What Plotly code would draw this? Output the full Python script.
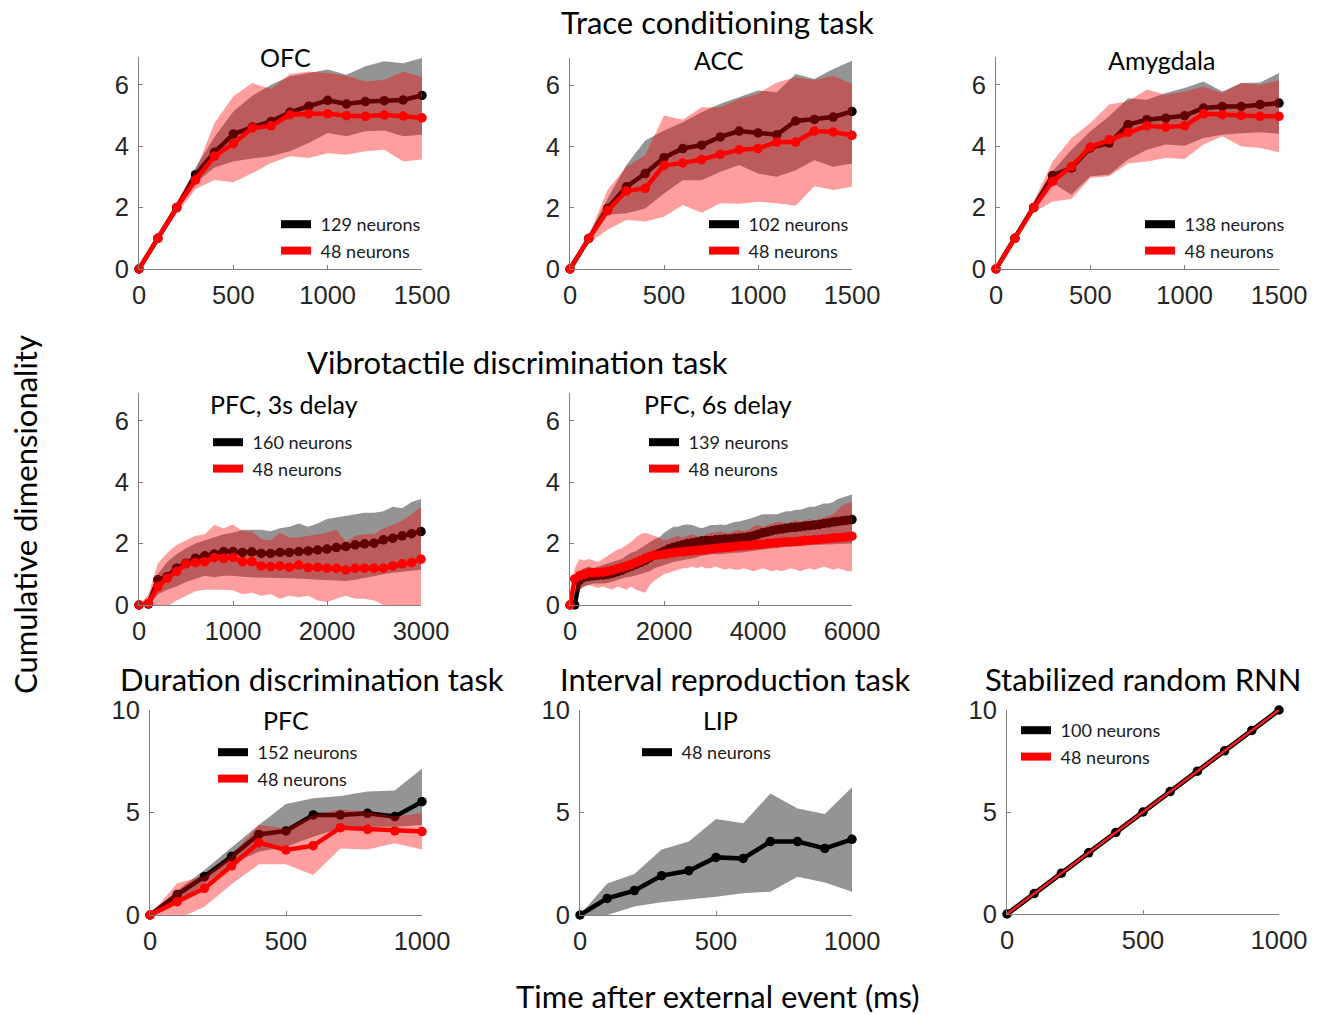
import plotly.graph_objects as go

W, H = 1320, 1015

# ---------------- data ----------------
t1500 = [0, 100, 200, 300, 400, 500, 600, 700, 800, 900, 1000, 1100, 1200, 1300, 1400, 1500]
t1000 = [0, 100, 200, 300, 400, 500, 600, 700, 800, 900, 1000]
t3000 = list(range(0, 3001, 100))
t6000 = list(range(0, 6001, 100))

# OFC
ofc_all_mean = [0, 1.0, 2.0, 3.07, 3.8, 4.39, 4.62, 4.8, 5.1, 5.3, 5.49, 5.37, 5.45, 5.48, 5.5, 5.65]
ofc_all_up = [0, 1.05, 2.1, 3.3, 4.3, 5.13, 5.64, 6.0, 6.27, 6.38, 6.49, 6.32, 6.6, 6.76, 6.7, 6.87]
ofc_all_lo = [0, 0.95, 1.9, 2.8, 3.3, 3.5, 3.6, 3.67, 3.83, 4.1, 4.43, 4.32, 4.48, 4.51, 4.32, 4.37]
ofc_sub_mean = [0, 1.0, 2.0, 2.9, 3.67, 4.08, 4.59, 4.66, 5.02, 5.05, 5.05, 4.99, 4.97, 5.01, 4.98, 4.92]
ofc_sub_up = [0, 1.1, 2.2, 3.2, 4.75, 5.62, 6.05, 5.86, 6.35, 6.43, 6.38, 6.29, 6.1, 6.16, 6.43, 6.25]
ofc_sub_lo = [0, 0.9, 1.8, 2.6, 2.9, 2.82, 3.12, 3.45, 3.67, 3.61, 3.77, 3.72, 3.83, 3.88, 3.5, 3.56]

# ACC
acc_all_mean = [0, 1.0, 1.98, 2.69, 3.12, 3.64, 3.94, 4.05, 4.32, 4.51, 4.45, 4.39, 4.84, 4.89, 4.97, 5.15]
acc_all_up = [0, 1.1, 2.3, 3.4, 4.2, 4.53, 4.8, 5.13, 5.4, 5.62, 5.84, 5.78, 6.38, 6.21, 6.54, 6.81]
acc_all_lo = [0, 0.9, 1.77, 1.82, 1.98, 2.47, 2.9, 2.9, 3.18, 3.4, 3.12, 3.02, 3.23, 3.56, 3.34, 3.45]
acc_sub_mean = [0, 1.0, 1.91, 2.55, 2.64, 3.39, 3.47, 3.58, 3.75, 3.9, 3.94, 4.15, 4.15, 4.51, 4.48, 4.37]
acc_sub_up = [0, 1.1, 2.58, 3.34, 3.72, 5.02, 4.88, 5.29, 5.29, 5.56, 5.73, 6.1, 6.27, 6.18, 6.32, 6.05]
acc_sub_lo = [0, 0.85, 1.28, 1.6, 1.55, 1.71, 2.09, 1.84, 2.15, 2.13, 2.2, 2.15, 2.07, 2.71, 2.58, 2.69]

# Amygdala
amy_all_mean = [0, 1.0, 2.0, 3.04, 3.29, 3.94, 4.1, 4.7, 4.86, 4.91, 4.99, 5.24, 5.29, 5.29, 5.35, 5.4]
amy_all_up = [0, 1.05, 2.1, 3.18, 3.88, 4.48, 4.97, 5.56, 5.51, 5.73, 5.89, 6.1, 5.78, 6.05, 6.07, 6.38]
amy_all_lo = [0, 0.95, 1.95, 2.8, 2.42, 3.02, 3.07, 3.56, 3.88, 4.05, 4.01, 4.26, 4.37, 4.42, 4.45, 4.4]
amy_sub_mean = [0, 1.0, 2.0, 2.85, 3.34, 3.97, 4.21, 4.45, 4.66, 4.62, 4.66, 5.05, 5.02, 5.0, 4.97, 4.97]
amy_sub_up = [0, 1.1, 2.2, 3.5, 4.26, 4.75, 5.35, 5.46, 5.84, 5.67, 5.78, 5.94, 5.73, 6.05, 6.0, 6.14]
amy_sub_lo = [0, 0.9, 1.85, 2.2, 2.28, 2.96, 3.02, 3.43, 3.5, 3.61, 3.58, 4.05, 4.32, 3.99, 3.94, 3.8]

# PFC, 3s delay
p3_all_mean = [0, 0.03, 0.82, 0.92, 1.2, 1.36, 1.52, 1.6, 1.66, 1.74, 1.74, 1.71, 1.73, 1.68, 1.68, 1.71,
               1.71, 1.74, 1.76, 1.79, 1.82, 1.87, 1.9, 1.96, 1.99, 2.01, 2.12, 2.17, 2.25, 2.32, 2.39]
p3_all_up = [0, 0.1, 1.0, 1.4, 1.65, 1.85, 2.0, 2.1, 2.2, 2.3, 2.35, 2.45, 2.45, 2.45, 2.4, 2.5,
             2.55, 2.65, 2.55, 2.65, 2.8, 2.85, 2.9, 2.95, 3.0, 3.0, 3.05, 3.2, 3.15, 3.35, 3.45]
p3_all_lo = [0, -0.05, 0.35, 0.5, 0.6, 0.75, 0.85, 0.95, 0.9, 0.95, 0.95, 0.92, 0.9, 0.9, 0.88, 0.88,
             0.87, 0.85, 0.85, 0.82, 0.8, 0.8, 0.78, 0.82, 0.88, 0.95, 1.0, 1.05, 1.1, 1.12, 1.15]
p3_sub_mean = [0, 0.05, 0.6, 0.87, 1.09, 1.34, 1.38, 1.41, 1.54, 1.52, 1.55, 1.41, 1.41, 1.27, 1.25, 1.27,
               1.23, 1.3, 1.22, 1.23, 1.2, 1.2, 1.14, 1.2, 1.2, 1.2, 1.2, 1.27, 1.34, 1.38, 1.49]
p3_sub_up = [0, 0.35, 1.35, 1.7, 1.95, 2.1, 2.25, 2.3, 2.6, 2.5, 2.62, 2.4, 2.4, 2.15, 2.1, 2.35,
             2.2, 2.2, 2.25, 2.3, 2.35, 2.45, 2.05, 2.25, 2.3, 2.3, 2.5, 2.6, 2.75, 2.95, 3.2]
p3_sub_lo = [0, -0.2, -0.05, -0.05, 0.15, 0.3, 0.45, 0.5, 0.5, 0.5, 0.48, 0.35, 0.4, 0.3, 0.35, 0.2,
             0.3, 0.25, 0.3, 0.15, 0.1, 0.2, 0.3, 0.2, 0.2, 0.15, 0.0, -0.05, -0.1, -0.1, -0.05]

# PFC, 6s delay
p6_all_mean = [0, 0.0, 0.8, 0.9, 0.93, 0.95, 0.97, 0.98, 1.0, 1.03, 1.08, 1.13, 1.2, 1.26, 1.32, 1.38,
               1.45, 1.55, 1.62, 1.68, 1.75, 1.82, 1.88, 1.92, 1.96, 2.0, 2.03, 2.05, 2.08, 2.1, 2.1,
               2.12, 2.13, 2.15, 2.15, 2.17, 2.18, 2.2, 2.22, 2.25, 2.3, 2.35, 2.38, 2.42, 2.45, 2.47,
               2.5, 2.52, 2.53, 2.55, 2.57, 2.58, 2.6, 2.62, 2.65, 2.67, 2.7, 2.72, 2.74, 2.76, 2.78]
p6_all_up = [0, 0.3, 1.1, 1.2, 1.25, 1.2, 1.25, 1.3, 1.35, 1.4, 1.45, 1.5, 1.6, 1.7, 1.75, 1.85,
             1.95, 2.05, 2.15, 2.2, 2.35, 2.45, 2.55, 2.55, 2.6, 2.62, 2.6, 2.55, 2.5, 2.55, 2.6,
             2.6, 2.62, 2.6, 2.65, 2.7, 2.72, 2.75, 2.8, 2.85, 2.9, 2.95, 2.95, 2.95, 2.95, 3.0,
             3.05, 3.05, 3.1, 3.1, 3.15, 3.2, 3.2, 3.25, 3.3, 3.3, 3.35, 3.45, 3.5, 3.55, 3.6]
p6_all_lo = [0, -0.1, 0.5, 0.6, 0.65, 0.7, 0.7, 0.7, 0.72, 0.75, 0.8, 0.85, 0.9, 0.92, 0.95, 1.0,
             1.05, 1.1, 1.2, 1.25, 1.3, 1.35, 1.4, 1.42, 1.45, 1.5, 1.52, 1.55, 1.6, 1.62, 1.65,
             1.65, 1.65, 1.68, 1.68, 1.7, 1.7, 1.72, 1.75, 1.75, 1.78, 1.8, 1.82, 1.85, 1.85, 1.88,
             1.9, 1.9, 1.92, 1.92, 1.93, 1.95, 1.95, 1.95, 1.97, 1.97, 1.98, 1.98, 2.0, 2.0, 2.0]
p6_sub_mean = [0, 0.85, 0.95, 1.0, 1.05, 1.05, 1.06, 1.07, 1.1, 1.13, 1.18, 1.22, 1.27, 1.32, 1.38, 1.45,
               1.52, 1.58, 1.62, 1.63, 1.65, 1.68, 1.7, 1.72, 1.73, 1.75, 1.76, 1.78, 1.79, 1.8, 1.82,
               1.84, 1.86, 1.87, 1.88, 1.9, 1.92, 1.93, 1.94, 1.95, 1.97, 1.98, 2.0, 2.01, 2.03, 2.04,
               2.05, 2.06, 2.07, 2.08, 2.1, 2.11, 2.12, 2.13, 2.15, 2.16, 2.18, 2.19, 2.2, 2.22, 2.24]
p6_sub_up = [0, 1.2, 1.5, 1.45, 1.5, 1.45, 1.4, 1.5, 1.6, 1.7, 1.8, 1.85, 1.95, 2.05, 2.2, 2.3,
             2.35, 2.3, 2.25, 2.2, 2.1, 2.15, 2.2, 2.25, 2.2, 2.25, 2.3, 2.25, 2.2, 2.3, 2.35,
             2.35, 2.4, 2.35, 2.35, 2.4, 2.45, 2.4, 2.45, 2.55, 2.6, 2.55, 2.6, 2.65, 2.7, 2.7,
             2.65, 2.7, 2.75, 2.7, 2.75, 2.8, 2.75, 2.8, 2.85, 2.9, 2.95, 3.1, 3.25, 3.3, 3.35]
p6_sub_lo = [0, 0.4, 0.5, 0.6, 0.65, 0.6, 0.55, 0.6, 0.55, 0.5, 0.6, 0.55, 0.5, 0.6, 0.5, 0.45,
             0.4, 0.65, 0.8, 0.9, 1.0, 1.05, 1.1, 1.15, 1.2, 1.2, 1.25, 1.2, 1.25, 1.2, 1.2,
             1.25, 1.2, 1.15, 1.2, 1.15, 1.15, 1.2, 1.15, 1.1, 1.15, 1.2, 1.15, 1.1, 1.15, 1.1,
             1.15, 1.2, 1.15, 1.1, 1.15, 1.2, 1.15, 1.2, 1.25, 1.2, 1.15, 1.2, 1.15, 1.1, 1.1]

# Duration discrimination, PFC
dur_all_mean = [0, 1.0, 1.87, 2.85, 3.93, 4.1, 4.88, 4.88, 4.96, 4.8, 5.53]
dur_all_up = [0, 1.2, 2.2, 3.3, 4.39, 5.41, 5.69, 5.8, 6.02, 6.07, 7.15]
dur_all_lo = [0, 0.6, 1.5, 2.5, 3.09, 3.33, 3.82, 4.23, 4.3, 4.3, 4.39]
dur_sub_mean = [0, 0.65, 1.3, 2.4, 3.53, 3.17, 3.38, 4.26, 4.18, 4.1, 4.07]
dur_sub_up = [0, 1.55, 1.9, 2.9, 4.39, 4.23, 4.88, 5.15, 5.04, 4.8, 4.96]
dur_sub_lo = [0, -0.2, 0.4, 1.5, 2.47, 2.47, 1.95, 3.25, 3.2, 3.5, 3.2]

# Interval reproduction, LIP
lip_mean = [0, 0.81, 1.19, 1.92, 2.16, 2.81, 2.76, 3.58, 3.58, 3.25, 3.69]
lip_up = [0, 1.54, 2.0, 3.2, 3.58, 4.68, 4.47, 5.93, 5.2, 4.93, 6.23]
lip_lo = [0, 0.0, 0.41, 0.62, 0.76, 0.89, 1.06, 1.14, 1.87, 1.58, 1.14]

# Stabilized random RNN
rnn_all_mean = [0, 1, 2, 3, 4, 5, 6, 7, 8, 9, 10]
rnn_sub_mean = [0, 1, 2, 3, 4, 5, 6, 7, 8, 9, 10]

# ---------------- styling ----------------
GRAY_FILL = "rgb(148,148,148)"
RED_FILL = "rgba(255,0,0,0.38)"
TICK_FONT = dict(family="Liberation Sans, Arial, sans-serif", size=25.5, color="#262626")
TEXT_FONT = "Lato, Open Sans, sans-serif"
NBSP = "\u00a0"


def fx(p):
    return p / W


def fy(p):
    return 1 - p / H


panels = [
    dict(dom=(139, 422, 57, 269), xr=[0, 1500], yr=[0, 6.9], xt=[0, 500, 1000, 1500], yt=[0, 2, 4, 6],
         t=t1500, title="OFC", tpos=(285, 57), leg=(276, 206),
         all=(ofc_all_mean, ofc_all_up, ofc_all_lo, "129 neurons"),
         sub=(ofc_sub_mean, ofc_sub_up, ofc_sub_lo, "48 neurons")),
    dict(dom=(570, 852, 58, 269), xr=[0, 1500], yr=[0, 6.9], xt=[0, 500, 1000, 1500], yt=[0, 2, 4, 6],
         t=t1500, title="ACC", tpos=(719, 60), leg=(704, 206),
         all=(acc_all_mean, acc_all_up, acc_all_lo, "102 neurons"),
         sub=(acc_sub_mean, acc_sub_up, acc_sub_lo, "48 neurons")),
    dict(dom=(996, 1279, 57, 269), xr=[0, 1500], yr=[0, 6.9], xt=[0, 500, 1000, 1500], yt=[0, 2, 4, 6],
         t=t1500, title="Amygdala", tpos=(1161, 60), leg=(1140, 206),
         all=(amy_all_mean, amy_all_up, amy_all_lo, "138 neurons"),
         sub=(amy_sub_mean, amy_sub_up, amy_sub_lo, "48 neurons")),
    dict(dom=(139, 421, 393, 605), xr=[0, 3000], yr=[0, 6.9], xt=[0, 1000, 2000, 3000], yt=[0, 2, 4, 6],
         t=t3000, title="PFC, 3s delay", tpos=(284, 404), leg=(208, 424),
         all=(p3_all_mean, p3_all_up, p3_all_lo, "160 neurons"),
         sub=(p3_sub_mean, p3_sub_up, p3_sub_lo, "48 neurons")),
    dict(dom=(570, 852, 393, 605), xr=[0, 6000], yr=[0, 6.9], xt=[0, 2000, 4000, 6000], yt=[0, 2, 4, 6],
         t=t6000, title="PFC, 6s delay", tpos=(718, 404), leg=(644, 424),
         all=(p6_all_mean, p6_all_up, p6_all_lo, "139 neurons"),
         sub=(p6_sub_mean, p6_sub_up, p6_sub_lo, "48 neurons")),
    dict(dom=(150, 422, 710, 915), xr=[0, 1000], yr=[0, 10], xt=[0, 500, 1000], yt=[0, 5, 10],
         t=t1000, title="PFC", tpos=(286, 720), leg=(213, 734),
         all=(dur_all_mean, dur_all_up, dur_all_lo, "152 neurons"),
         sub=(dur_sub_mean, dur_sub_up, dur_sub_lo, "48 neurons")),
    dict(dom=(580, 852, 710, 915), xr=[0, 1000], yr=[0, 10], xt=[0, 500, 1000], yt=[0, 5, 10],
         t=t1000, title="LIP", tpos=(720, 720), leg=(637, 734),
         all=(lip_mean, lip_up, lip_lo, "48 neurons"),
         sub=None),
    dict(dom=(1007, 1279, 710, 914), xr=[0, 1000], yr=[0, 10], xt=[0, 500, 1000], yt=[0, 5, 10],
         t=t1000, title=None, tpos=None, leg=(1016, 712),
         all=(rnn_all_mean, None, None, "100 neurons"),
         sub=(rnn_sub_mean, None, None, "48 neurons"), rnn=True),
]

fig = go.Figure()
layout = dict(width=W, height=H, margin=dict(l=0, r=0, t=0, b=0, pad=0, autoexpand=False),
              plot_bgcolor="white", paper_bgcolor="white", showlegend=True)
annotations = []

for i, p in enumerate(panels, start=1):
    xa = "x" if i == 1 else f"x{i}"
    ya = "y" if i == 1 else f"y{i}"
    lg = "legend" if i == 1 else f"legend{i}"
    x0, x1, y0, y1 = p["dom"]
    axis_common = dict(showline=True, linecolor="#7f7f7f", linewidth=1, showgrid=False, zeroline=False,
                       ticks="inside", ticklen=4, tickcolor="#7f7f7f", tickfont=TICK_FONT, fixedrange=True,
                       automargin=False)
    layout["xaxis" if i == 1 else f"xaxis{i}"] = dict(
        domain=[fx(x0), fx(x1)], range=p["xr"], tickvals=p["xt"], anchor=ya, ticklabelstandoff=3,
        **axis_common)
    layout["yaxis" if i == 1 else f"yaxis{i}"] = dict(
        domain=[fy(y1), fy(y0)], range=p["yr"], tickvals=p["yt"], anchor=xa, ticklabelstandoff=4,
        **axis_common)

    t = p["t"]
    am, au, al, aname = p["all"]
    rnn = p.get("rnn", False)
    # black series band
    if au is not None:
        fig.add_trace(go.Scatter(x=t + t[::-1], y=au + al[::-1], fill="toself", fillcolor=GRAY_FILL,
                                 line=dict(width=0), mode="lines", hoverinfo="skip", showlegend=False,
                                 xaxis=xa, yaxis=ya))
    fig.add_trace(go.Scatter(x=t, y=am, mode="lines+markers",
                             line=dict(color="black", width=5 if rnn else 4.5),
                             marker=dict(color="black", size=9.5), cliponaxis=False, showlegend=False,
                             xaxis=xa, yaxis=ya))
    if p["sub"] is not None:
        sm, su, sl, sname = p["sub"]
        if su is not None:
            fig.add_trace(go.Scatter(x=t + t[::-1], y=su + sl[::-1], fill="toself", fillcolor=RED_FILL,
                                     line=dict(width=0), mode="lines", hoverinfo="skip", showlegend=False,
                                     xaxis=xa, yaxis=ya))
        if rnn:
            fig.add_trace(go.Scatter(x=t, y=sm, mode="lines", line=dict(color="#ff1a1a", width=2.5),
                                     cliponaxis=False, showlegend=False, xaxis=xa, yaxis=ya))
        else:
            fig.add_trace(go.Scatter(x=t, y=sm, mode="lines+markers", line=dict(color="#ff0000", width=4.5),
                                     marker=dict(color="#ff0000", size=9.5), cliponaxis=False,
                                     showlegend=False, xaxis=xa, yaxis=ya))

    # legend entries
    fig.add_trace(go.Scatter(x=[None], y=[None], mode="lines", line=dict(color="black", width=8),
                             name=NBSP + aname, legend=lg, xaxis=xa, yaxis=ya))
    if p["sub"] is not None:
        fig.add_trace(go.Scatter(x=[None], y=[None], mode="lines", line=dict(color="#ff0000", width=8),
                                 name=NBSP + p["sub"][3], legend=lg, xaxis=xa, yaxis=ya))
    lx, ly = p["leg"]
    layout[lg] = dict(x=fx(lx), y=fy(ly), xanchor="left", yanchor="top", bgcolor="rgba(0,0,0,0)",
                      font=dict(family=TEXT_FONT, size=18, color="#1a1a1a"), itemwidth=30,
                      tracegroupgap=0, borderwidth=0)

    if p["title"]:
        tx, ty = p["tpos"]
        annotations.append(dict(text=p["title"], x=fx(tx), y=fy(ty), xref="paper", yref="paper",
                                xanchor="center", yanchor="middle", showarrow=False,
                                font=dict(family=TEXT_FONT, size=25, color="black")))

big_titles = [
    ("Trace conditioning task", 717, 22),
    ("Vibrotactile discrimination task", 517, 362),
    ("Duration discrimination task", 312, 679),
    ("Interval reproduction task", 735, 679),
    ("Stabilized random RNN", 1143, 679),
]
for txt, tx, ty in big_titles:
    annotations.append(dict(text=txt, x=fx(tx), y=fy(ty), xref="paper", yref="paper",
                            xanchor="center", yanchor="middle", showarrow=False,
                            font=dict(family=TEXT_FONT, size=31, color="black")))

annotations.append(dict(text="Cumulative dimensionality", x=fx(25), y=fy(515), xref="paper", yref="paper",
                        xanchor="center", yanchor="middle", showarrow=False, textangle=-90,
                        font=dict(family=TEXT_FONT, size=31, color="black")))
annotations.append(dict(text="Time after external event (ms)", x=fx(718), y=fy(996), xref="paper",
                        yref="paper", xanchor="center", yanchor="middle", showarrow=False,
                        font=dict(family=TEXT_FONT, size=31, color="black")))

layout["annotations"] = annotations
fig.update_layout(**layout)
fig.write_html("out.html")
